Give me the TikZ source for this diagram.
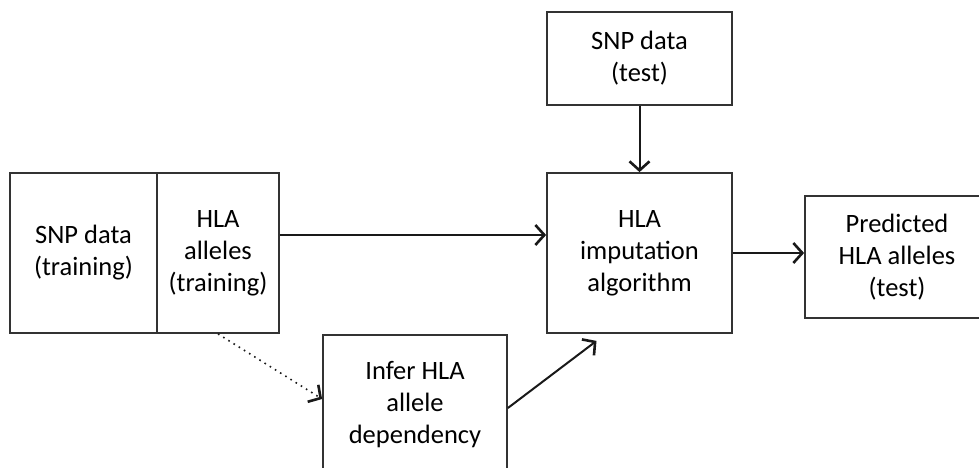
\documentclass[tikz,border=0pt]{standalone}
\usepackage{fontspec}
\setmainfont{Carlito}
\usetikzlibrary{arrows.meta,calc}
\begin{document}
\begin{tikzpicture}[x=1pt,y=-1pt,
  box/.style={draw=black!80,line width=1.8pt,align=center,inner sep=0pt,
    font=\fontsize{26.5}{32}\selectfont,text=black},
  arr/.style={draw=black!90,line width=2pt,-{Straight Barb[length=9pt,width=20pt,line width=2.6pt]}},
  dotarr/.style={arr,dash pattern=on 1.6pt off 4.5pt,line width=1.6pt}]
\useasboundingbox (0,0) rectangle (979,468);
\node[box,minimum width=147pt,minimum height=160pt] (snptr) at (83.5,253) {SNP data\\(training)};
\node[box,minimum width=122pt,minimum height=160pt] (hla) at (218,253) {HLA\\alleles\\(training)};
\node[box,minimum width=185pt,minimum height=93pt] (snpte) at (639.5,58.5) {SNP data\\(test)};
\node[box,minimum width=185pt,minimum height=160pt] (imp) at (639.5,253) {HLA\\imputation\\algorithm};
\node[box,minimum width=184pt,minimum height=122pt] (pred) at (897,257) {Predicted\\HLA alleles\\(test)};
\node[box,minimum width=184pt,minimum height=140pt] (infer) at (415,405) {Infer HLA\\allele\\dependency};
\draw[arr] ([yshift=18pt]hla.east) -- ([yshift=18pt]imp.west);
\draw[arr] (snpte.south) -- (imp.north);
\draw[arr] (imp.east) -- (imp.east -| pred.west);
\draw[arr] ([yshift=-3pt]infer.east) -- ($(imp.south)+(-43,7)$);
\draw[dotarr] (hla.south) -- ([yshift=6pt]infer.west);
\end{tikzpicture}
\end{document}
